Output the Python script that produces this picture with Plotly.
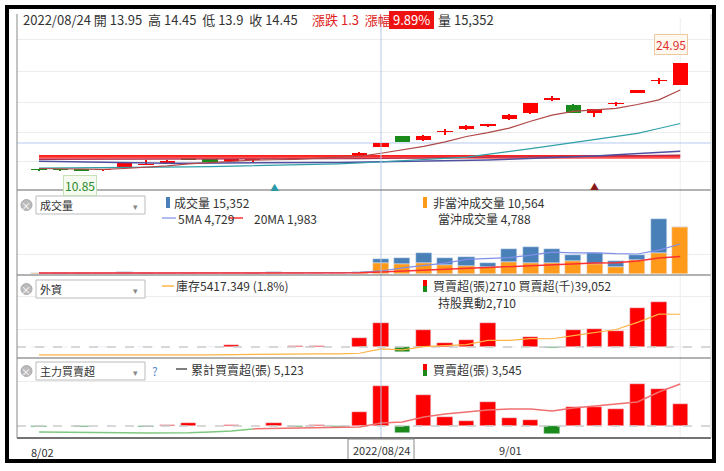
import plotly.graph_objects as go

dates = ["8/02","8/03","8/04","8/05","8/08","8/09","8/10","8/11","8/12","8/15","8/16","8/17","8/18","8/19","8/22","8/23","8/24",
         "8/25","8/26","8/29","8/30","8/31","9/01","9/02","9/05","9/06","9/07","9/08","9/12","9/13","9/14"]
opens  = [11.0,11.0,10.95,10.95,11.15,11.6,11.8,12.6,12.35,12.1,12.25,12.5,12.45,12.7,12.7,12.75,13.95,
          15.35,14.85,15.9,16.3,16.8,17.6,18.4,20.2,19.45,18.4,19.6,21.1,22.6,22.05]
highs  = [11.05,11.05,11.0,11.05,11.8,12.2,12.15,12.65,12.4,12.3,12.5,12.75,12.6,12.85,12.8,13.2,14.45,
          15.4,15.5,16.3,16.8,17.0,18.2,19.7,20.6,19.5,18.95,19.8,21.4,23.0,24.95]
lows   = [10.9,10.9,10.85,10.9,11.1,11.5,11.75,12.15,11.9,12.05,12.0,12.35,12.3,12.55,12.6,12.7,13.9,
          14.55,14.7,15.5,16.2,16.6,17.4,18.3,19.9,18.35,17.9,19.3,21.0,22.2,22.05]
closes = [10.95,10.95,10.9,11.0,11.8,11.65,12.1,12.2,11.95,12.25,12.3,12.55,12.45,12.7,12.7,13.15,14.45,
          14.6,15.35,15.9,16.7,16.8,18.1,19.7,20.2,18.4,18.9,19.6,21.35,22.7,24.95]
ma5   = [11.1,11.05,11.0,10.98,11.1,11.25,11.45,11.7,11.9,12.05,12.2,12.25,12.3,12.45,12.55,12.7,13.1,
         13.55,14.0,14.6,15.3,15.8,16.4,17.3,18.1,18.6,18.8,19.0,19.5,20.1,21.4]
ma20  = [11.15,11.16,11.17,11.18,11.2,11.23,11.27,11.31,11.35,11.4,11.45,11.5,11.55,11.62,11.7,11.82,11.95,
         12.1,12.25,12.42,12.6,12.95,13.3,13.7,14.1,14.5,14.9,15.3,15.7,16.35,17.0]
ma60  = [12.05,12.0,11.95,11.9,11.85,11.82,11.8,11.8,11.8,11.8,11.82,11.84,11.86,11.88,11.9,11.93,11.96,
         12.0,12.05,12.1,12.15,12.2,12.3,12.4,12.5,12.6,12.75,12.9,13.05,13.2,13.35]
ma120 = [12.3,12.3,12.3,12.3,12.3,12.3,12.3,12.3,12.3,12.3,12.3,12.32,12.34,12.36,12.38,12.4,12.42,
         12.45,12.48,12.5,12.53,12.56,12.6,12.63,12.66,12.7,12.73,12.76,12.8,12.83,12.86]
res1 = [12.75]*31
res2 = [12.5]*31

vol_nodt = [200,150,150,200,450,150,300,200,250,200,150,300,200,200,250,400,3600,
            3300,3600,3000,2600,2300,4000,3600,3600,4300,3300,2300,4600,6900,15500]
vol_dt   = [50,50,50,50,300,50,100,50,50,50,50,500,50,50,50,300,1300,
            2000,3300,2300,3000,1300,4300,5300,4600,2000,3600,2000,1600,11200,0]
vol_ma5  = [300,300,300,300,350,350,350,350,350,350,350,450,450,450,450,550,1000,
            2000,2900,3600,4800,5000,5400,6200,7200,7000,7000,6700,6600,7900,9900]
vol_ma20 = [300,300,300,300,300,300,300,300,300,300,300,300,320,340,360,400,700,
            1000,1300,1600,1900,2100,2500,2900,3200,3400,3600,3700,4300,5300,5800]

foreign_net = [-50,-50,0,50,0,50,0,0,50,200,0,50,150,150,0,1000,2710,
               -560,1920,450,790,2710,-50,1130,-100,1920,2030,1800,4400,5100,-50]
foreign_hold = [1650,1600,1600,1650,1650,1700,1700,1700,1750,1950,1950,2000,2150,2300,2300,2707,5417,
                4857,6777,7227,8017,10727,10677,11807,11707,13627,15657,17457,21857,26957,26907]

main_net = [-100,0,-100,0,0,-100,50,250,0,100,0,300,-50,100,-50,1240,3545,
            -620,2750,800,440,2130,710,530,-710,1680,1680,1500,3720,3280,1950]
main_cum = [-2560,-2560,-2900,-3000,-3200,-3400,-3400,-3200,-2600,-1700,100,300,500,900,900,1700,5123,
            6000,10250,12800,14500,16200,17100,17100,15400,17900,19600,21400,23100,31600,38400]

X = list(range(len(dates)))
W, H = 724, 471
def fy(py): return 1 - py / H
def fx(px): return px / W

RED, GREEN = "#ff0000", "#1a8a1a"
fig = go.Figure()

ccol = [RED if c >= o else GREEN for o, c in zip(opens, closes)]
fig.add_trace(go.Bar(x=X, base=lows, y=[h - l for h, l in zip(highs, lows)], width=0.07,
                     marker=dict(color=ccol, line=dict(width=0)), xaxis="x", yaxis="y", showlegend=False))
fig.add_trace(go.Bar(x=X, base=[min(o, c) for o, c in zip(opens, closes)],
                     y=[max(abs(c - o), 0.07) for o, c in zip(opens, closes)], width=0.72,
                     marker=dict(color=ccol, line=dict(width=0)), xaxis="x", yaxis="y", showlegend=False))
for arr, col, w in [(res1, "#ff2020", 2), (res2, "#ff5050", 2), (ma120, "#b03050", 1.2),
                    (ma60, "#5050a0", 1.5), (ma20, "#30a0a8", 1.2), (ma5, "#b04848", 1.2)]:
    fig.add_trace(go.Scatter(x=X, y=arr, mode="lines", line=dict(color=col, width=w),
                             xaxis="x", yaxis="y", showlegend=False, hoverinfo="skip"))

fig.add_trace(go.Bar(x=X, y=vol_nodt, marker_color="#ff9a1a", width=0.75, xaxis="x", yaxis="y2", showlegend=False))
fig.add_trace(go.Bar(x=X, y=vol_dt, base=vol_nodt, marker_color="#4a80b8", width=0.75, xaxis="x", yaxis="y2", showlegend=False))
fig.add_trace(go.Scatter(x=X, y=vol_ma5, mode="lines", line=dict(color="#7f8fe8", width=1.2), xaxis="x", yaxis="y2", showlegend=False))
fig.add_trace(go.Scatter(x=X, y=vol_ma20, mode="lines", line=dict(color="#ff3030", width=1.5), xaxis="x", yaxis="y2", showlegend=False))

fig.add_trace(go.Scatter(x=[-1.03, 31.44], y=[0, 0], mode="lines", line=dict(color="#cccccc", width=1.5, dash="dash"),
                         xaxis="x", yaxis="y3", showlegend=False))
fig.add_trace(go.Bar(x=X, y=[v if v != 0 else None for v in foreign_net],
                     marker_color=[RED if v > 0 else GREEN for v in foreign_net],
                     width=0.72, xaxis="x", yaxis="y3", showlegend=False))
fig.add_trace(go.Scatter(x=X, y=foreign_hold, mode="lines", line=dict(color="#ffb347", width=1.2),
                         xaxis="x", yaxis="y5", showlegend=False))

fig.add_trace(go.Scatter(x=[-1.03, 31.44], y=[0, 0], mode="lines", line=dict(color="#cccccc", width=1.5, dash="dash"),
                         xaxis="x", yaxis="y4", showlegend=False))
fig.add_trace(go.Bar(x=X, y=[v if v != 0 else None for v in main_net],
                     marker_color=[RED if v > 0 else GREEN for v in main_net],
                     width=0.72, xaxis="x", yaxis="y4", showlegend=False))
neg = [v if i <= 10 else None for i, v in enumerate(main_cum)]
pos = [v if i >= 10 else None for i, v in enumerate(main_cum)]
fig.add_trace(go.Scatter(x=X, y=neg, mode="lines", line=dict(color="#7fc87f", width=1.5), xaxis="x", yaxis="y6", showlegend=False))
fig.add_trace(go.Scatter(x=X, y=pos, mode="lines", line=dict(color="#f07070", width=1.5), xaxis="x", yaxis="y6", showlegend=False))

grid = "#ececec"
ax = dict(showline=False, zeroline=False, showticklabels=False, gridcolor=grid, fixedrange=True)
fig.update_layout(
    width=W, height=H, margin=dict(l=0, r=0, t=0, b=0),
    paper_bgcolor="white", plot_bgcolor="white", bargap=0, barmode="overlay",
    font=dict(family="Noto Sans CJK TC", size=12, color="#333"),
    xaxis=dict(domain=[fx(17), fx(711)], range=[-1.03, 31.44], anchor="y4", showgrid=False,
               zeroline=False, showticklabels=False, fixedrange=True),
    yaxis=dict(ax, domain=[fy(188), fy(18)], range=[8.54, 30.85], tickvals=[11.96, 15.76, 19.70, 23.77, 27.97]),
    yaxis2=dict(ax, domain=[fy(274), fy(193)], range=[0, 26730], tickvals=[6600]),
    yaxis3=dict(ax, domain=[fy(356), fy(277)], range=[-1017, 7910], tickvals=[2034, 5763]),
    yaxis4=dict(ax, domain=[fy(438), fy(360)], range=[-1063, 5848], tickvals=[3900]),
    yaxis5=dict(ax, overlaying="y3", range=[1000, 50000], showgrid=False),
    yaxis6=dict(ax, overlaying="y4", range=[-7686, 58926], showgrid=False),
)

shapes = []
def line(x0, y0, x1, y1, color, width=1, dash=None):
    shapes.append(dict(type="line", xref="paper", yref="paper", x0=fx(x0), y0=fy(y0), x1=fx(x1), y1=fy(y1),
                       line=dict(color=color, width=width, dash=dash)))
shapes.append(dict(type="line", xref="x", yref="paper", x0=16, x1=16, y0=fy(438), y1=fy(18), line=dict(color="#b8c8e8", width=1)))
shapes.append(dict(type="line", xref="x", yref="paper", x0=30, x1=30, y0=fy(438), y1=fy(18), line=dict(color="#eeeeee", width=1), layer="below"))
shapes.append(dict(type="line", xref="paper", yref="y", x0=fx(17), x1=fx(711), y0=14.45, y1=14.45, line=dict(color="#b8c8f0", width=1), layer="below"))
for py, c in [(190, "#666"), (275, "#666"), (358, "#666")]:
    line(17, py, 711, py, c, 1.2)
line(17, 438, 711, 438, "#444", 1.5)
line(17, 14, 17, 438, "#888", 1)
line(711, 14, 711, 438, "#ccc", 1)
shapes.append(dict(type="rect", xref="paper", yref="paper", x0=fx(348), x1=fx(414), y0=fy(460), y1=fy(439),
                   line=dict(color="#888", width=1), fillcolor="white"))
for y0 in [196, 280, 362]:
    shapes.append(dict(type="rect", xref="paper", yref="paper", x0=fx(36), x1=fx(145), y0=fy(y0 + 18), y1=fy(y0),
                       line=dict(color="#bbb", width=1), fillcolor="white"))
    shapes.append(dict(type="circle", xref="paper", yref="paper", x0=fx(21), x1=fx(32), y0=fy(y0 + 14.5), y1=fy(y0 + 3.5),
                       line=dict(color="#aaa", width=1), fillcolor="#bbb"))
shapes.append(dict(type="rect", xref="paper", yref="paper", x0=fx(166), x1=fx(170), y0=fy(208), y1=fy(197), fillcolor="#4a80b8", line=dict(width=0)))
shapes.append(dict(type="rect", xref="paper", yref="paper", x0=fx(423), x1=fx(427), y0=fy(208), y1=fy(197), fillcolor="#ff9a1a", line=dict(width=0)))
for y0 in [280, 364]:
    shapes.append(dict(type="rect", xref="paper", yref="paper", x0=fx(423), x1=fx(427), y0=fy(y0 + 6), y1=fy(y0), fillcolor=RED, line=dict(width=0)))
    shapes.append(dict(type="rect", xref="paper", yref="paper", x0=fx(423), x1=fx(427), y0=fy(y0 + 12), y1=fy(y0 + 6), fillcolor=GREEN, line=dict(width=0)))
line(162, 218, 176, 218, "#7f8fe8", 1.2)
line(229, 218, 243, 218, "#ff3030", 1.5)
line(162, 286, 174, 286, "#ffb347", 1.5)
line(176, 369, 187, 369, "#555", 1.5)
shapes.append(dict(type="rect", xref="paper", yref="paper", x0=fx(389), x1=fx(434), y0=fy(29), y1=fy(11), fillcolor="#ee1111", line=dict(width=0)))
shapes.append(dict(type="rect", xref="paper", yref="paper", x0=fx(7), x1=fx(714), y0=fy(461), y1=fy(7), line=dict(color="black", width=4)))
fig.update_layout(shapes=shapes)

ann = []
def txt(x, y, s, color="#333", size=12, anchor="left", bg=None, border=None):
    ann.append(dict(xref="paper", yref="paper", x=fx(x), y=fy(y), text=s, showarrow=False, xanchor=anchor,
                    yanchor="middle", font=dict(color=color, size=size), bgcolor=bg, bordercolor=border,
                    borderwidth=1 if border else 0, borderpad=1))
txt(22, 20, "2022/08/24 開 13.95  高 14.45  低 13.9  收 14.45", "#333", 13)
txt(311, 20, "漲跌 1.3  漲幅", "#e02020", 13)
txt(411, 20, "9.89%", "white", 13, "center")
txt(437, 20, "量 15,352", "#333", 13)
txt(671, 45, "24.95", "#e03030", 12, "center", "#fff8ee", "#f0c8a0")
txt(80, 185, "10.85", "#2a8a2a", 12, "center", "#f5fbf0", "#c8e0b8")
ann.append(dict(xref="x", yref="paper", x=11, y=fy(187), text="▲", showarrow=False, font=dict(color="#2a9aa8", size=9)))
ann.append(dict(xref="x", yref="paper", x=26, y=fy(186), text="▲", showarrow=False, font=dict(color="#8a1a1a", size=9)))
for y0, s in [(196, "成交量"), (280, "外資"), (362, "主力買賣超")]:
    txt(39, y0 + 9, s, "#333", 11)
    txt(135, y0 + 10, "▾", "#888", 9, "center")
    txt(26.5, y0 + 9, "×", "white", 10, "center")
txt(173, 202, "成交量 15,352", "#333", 12)
txt(177, 218, "5MA 4,729", "#333", 12)
txt(253, 218, "20MA 1,983", "#333", 12)
txt(432, 202, "非當沖成交量 10,564", "#333", 12)
txt(437, 218, "當沖成交量 4,788", "#333", 12)
txt(175, 285, "庫存5417.349 (1.8%)", "#333", 12)
txt(432, 285, "買賣超(張)2710 買賣超(千)39,052", "#333", 12)
txt(437, 302, "持股異動2,710", "#333", 12)
txt(155, 370, "?", "#5a8ad0", 12, "center")
txt(190, 369, "累計買賣超(張) 5,123", "#333", 12)
txt(432, 369, "買賣超(張) 3,545", "#333", 12)
txt(30, 452, "8/02", "#333", 11)
txt(381, 450, "2022/08/24", "#333", 11, "center")
txt(498, 450, "9/01", "#333", 11)
fig.update_layout(annotations=ann)

fig.write_html("out.html", config={"displayModeBar": False},
               post_script="document.body.style.margin='0';document.body.style.padding='0';")
